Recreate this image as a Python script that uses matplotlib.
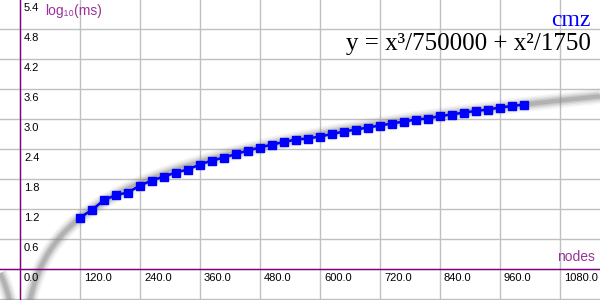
import numpy as np
import matplotlib.pyplot as plt
from matplotlib.transforms import offset_copy

# measured points (nodes vs log10 of time in ms)
nodes = [120, 144, 168, 192, 216, 240, 264, 288, 312, 336, 360, 384,
         408, 432, 456, 480, 504, 528, 552, 576, 600, 624, 648, 672, 696,
         720, 744, 768, 792, 816, 840, 864, 888, 912, 936, 960, 984, 1008]
log_ms = [1.03, 1.18, 1.38, 1.48, 1.53, 1.67, 1.77, 1.85, 1.93, 1.99, 2.09, 2.17,
          2.23, 2.30, 2.37, 2.43, 2.49, 2.54, 2.59, 2.61, 2.65, 2.70, 2.75, 2.79, 2.83,
          2.87, 2.91, 2.95, 2.99, 3.01, 3.06, 3.09, 3.13, 3.16, 3.19, 3.23, 3.26, 3.29]

x_ticks = [0, 120, 240, 360, 480, 600, 720, 840, 960, 1080]
y_ticks = [0.6, 1.2, 1.8, 2.4, 3.0, 3.6, 4.2, 4.8, 5.4]

series_name = "cmz"
fit_label = "y = x³/750000 + x²/1750"

purple = '#993399'
sans = ['Liberation Sans', 'DejaVu Sans']
serif = ['Liberation Serif', 'DejaVu Serif']

fig = plt.figure(figsize=(6, 3), dpi=100)
ax = fig.add_axes([0, 0, 1, 1])

# grid
ax.set_xticks(x_ticks)
ax.set_yticks([-0.6, 0] + y_ticks)
ax.grid(True, color='#c0c0c0', lw=1)
ax.tick_params(length=0, labelbottom=False, labelleft=False)
for s in ax.spines.values():
    s.set_visible(False)
ax.set_axisbelow(True)

# fitted curve, drawn soft/blurry
xs = np.linspace(-40, 1160, 3000)
f = xs ** 3 / 750000 + xs ** 2 / 1750
with np.errstate(divide='ignore', invalid='ignore'):
    ys = np.where(f > 0, np.log10(f), np.nan)
for lw, a in [(11, 0.07), (9, 0.09), (7, 0.14), (5, 0.2), (3, 0.3)]:
    ax.plot(xs, ys, color='#808080', lw=lw, alpha=a, solid_capstyle='butt', zorder=2)

# axes lines
ax.axhline(0, color='#800080', lw=1, zorder=3)
ax.axvline(0, color='#800080', lw=1, zorder=3)

# data
ax.plot(nodes, log_ms, color='#0000ff', lw=1.8, marker='s', ms=5.6, zorder=4)

# limits last so ticks don't stretch them
ax.set_xlim(-40, 1160)
ax.set_ylim(-0.62, 5.38)

# tick labels
off = offset_copy(ax.transData, fig=fig, x=4, y=-4, units='dots')
for v in x_ticks:
    ax.text(v, 0, f"{v:.1f}", transform=off, ha='left', va='top',
            fontsize=8, family=sans, color='black')
for v in y_ticks:
    ax.text(0, v, f"{v:.1f}", transform=off, ha='left', va='top',
            fontsize=8, family=sans, color='black')

# axis titles
ax.text(0.075, 0.985, "log₁₀(ms)", transform=ax.transAxes, ha='left', va='top',
        fontsize=10, family=sans, color=purple)
ax.text(0.992, 0.12, "nodes", transform=ax.transAxes, ha='right', va='bottom',
        fontsize=10, family=sans, color=purple)

# legend-ish texts
ax.text(0.985, 0.965, series_name, transform=ax.transAxes, ha='right', va='top',
        fontsize=17, family=serif, color='#0000ff')
ax.text(0.985, 0.89, fit_label, transform=ax.transAxes, ha='right', va='top',
        fontsize=18, family=serif, color='black')

fig.savefig('out.png', dpi=100)
